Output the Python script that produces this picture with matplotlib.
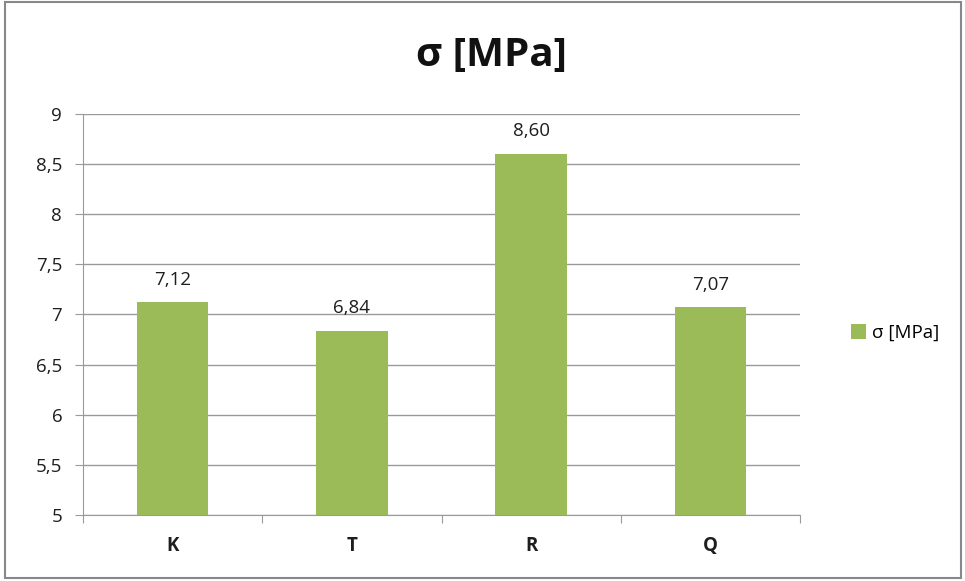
import matplotlib.pyplot as plt
from matplotlib.patches import Rectangle

plt.rcParams['font.family'] = ['Open Sans', 'DejaVu Sans']

categories = ['K', 'T', 'R', 'Q']
values = [7.12, 6.84, 8.60, 7.07]
series_name = 'σ [MPa]'
yticks = [5, 5.5, 6, 6.5, 7, 7.5, 8, 8.5, 9]

green = '#9BBB59'
grid_c = '#9A9A9A'
txt_c = '#1E1E1E'

fig = plt.figure(figsize=(9.65, 5.81), dpi=100)
ax = fig.add_axes([83 / 965, 66 / 581, 717 / 965, 401 / 581])

x = list(range(len(categories)))
bars = ax.bar(x, values, width=0.4, color=green, zorder=3, label=series_name)

ax.set_xlim(-0.5, len(categories) - 0.5)
ax.set_ylim(5, 9)
ax.set_yticks(yticks)
ax.set_yticklabels([f'{t:g}'.replace('.', ',') for t in yticks], fontsize=13.5, color=txt_c)
ax.yaxis.grid(True, color=grid_c, linewidth=1, zorder=0)

# category labels sit between boundary ticks
ax.set_xticks([i - 0.5 for i in range(len(categories) + 1)])
ax.set_xticklabels([])
ax.set_xticks(x, minor=True)
ax.set_xticklabels(categories, minor=True, fontsize=13.5, fontweight='bold', color=txt_c)
ax.tick_params(axis='x', which='minor', length=0, pad=15)
ax.tick_params(axis='x', which='major', length=6, color=grid_c, direction='out')
ax.tick_params(axis='y', length=6, color=grid_c, direction='out', pad=9)

for s in ['top', 'right']:
    ax.spines[s].set_visible(False)
for s in ['left', 'bottom']:
    ax.spines[s].set_color(grid_c)

for xi, v in zip(x, values):
    ax.annotate(f'{v:.2f}'.replace('.', ','), (xi, v), xytext=(0, 10),
                textcoords='offset points', ha='center', va='bottom',
                fontsize=13.5, color=txt_c)

fig.text(491 / 965, 1 - 56 / 581, series_name, ha='center', va='center',
         fontsize=29, fontweight='bold', color='#111111')

fig.legend(handles=[bars], labels=[series_name], loc='center left',
           bbox_to_anchor=(834 / 965, 1 - 333 / 581), frameon=False,
           fontsize=13.5, handlelength=0.8, handleheight=0.8, handletextpad=0.3)

# outer chart border
fig.patches.append(Rectangle((5 / 965, 3 / 581), 956 / 965, 576 / 581,
                             transform=fig.transFigure, fill=False,
                             edgecolor='#888888', linewidth=1.5))

fig.savefig('out.png', dpi=100)
